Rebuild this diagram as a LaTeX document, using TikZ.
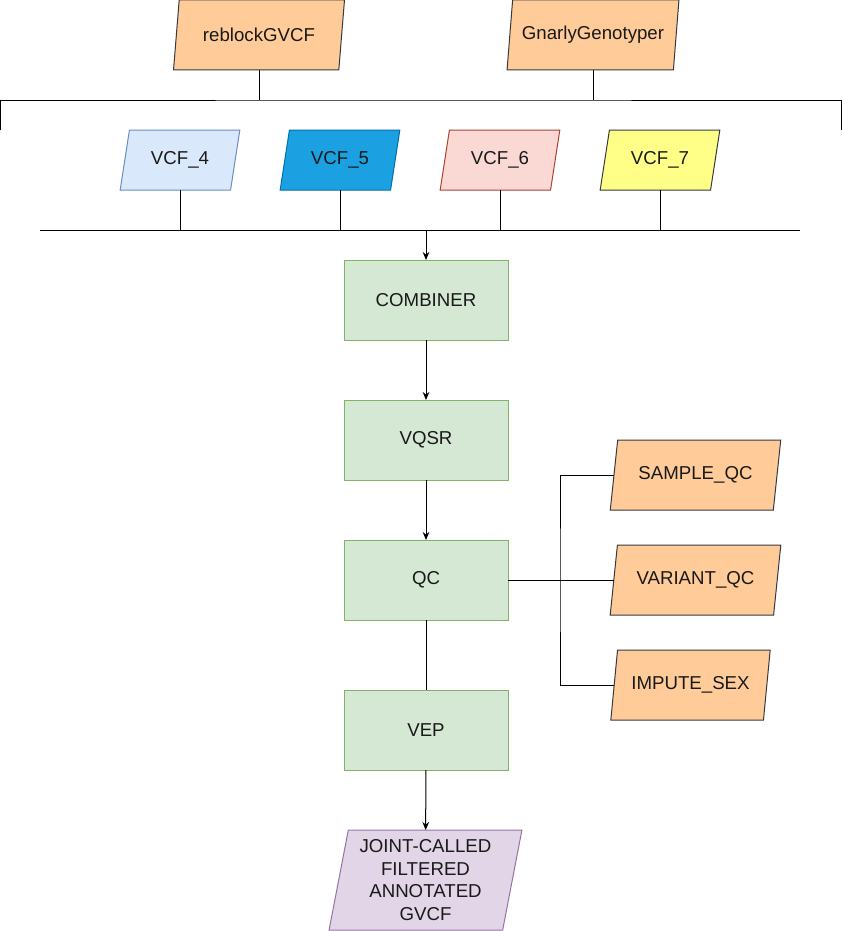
\documentclass[tikz,border=0pt]{standalone}
\usepackage{fontspec}
\setmainfont{Liberation Sans}
\usetikzlibrary{shapes.geometric,arrows.meta}
\definecolor{orangefill}{HTML}{FFCC99}
\definecolor{darkline}{HTML}{36393D}
\definecolor{greenfill}{HTML}{D5E8D4}
\definecolor{greenline}{HTML}{82B366}
\definecolor{purplefill}{HTML}{E1D5E7}
\definecolor{purpleline}{HTML}{9673A6}
\definecolor{vcffourfill}{HTML}{DAE8FC}
\definecolor{vcffourline}{HTML}{6C8EBF}
\definecolor{vcffivefill}{HTML}{1BA1E2}
\definecolor{vcffiveline}{HTML}{006EAF}
\definecolor{vcfsixfill}{HTML}{FAD9D5}
\definecolor{vcfsixline}{HTML}{AE4132}
\definecolor{vcfsevenfill}{HTML}{FFFF88}
\definecolor{vcfsevenline}{HTML}{36393D}
\begin{document}
\begin{tikzpicture}[x=0.75pt,y=-0.75pt,
    every node/.style={font=\fontsize{14}{17}\selectfont, text=black!90},
    para/.style={trapezium, trapezium stretches=true, draw, line width=0.75pt,
        outer sep=0pt, inner sep=1pt, align=center},
    tool/.style={para, fill=orangefill, draw=darkline, minimum width=129pt, minimum height=52.5pt,
        trapezium left angle=76, trapezium right angle=104},
    vcf/.style={para, minimum width=90pt, minimum height=45pt,
        trapezium left angle=74, trapezium right angle=106},
    qcout/.style={para, fill=orangefill, draw=darkline, minimum height=52.5pt,
        trapezium left angle=74, trapezium right angle=106},
    stage/.style={rectangle, draw=greenline, fill=greenfill, line width=0.75pt,
        outer sep=0pt, minimum width=123pt, minimum height=60pt},
    link/.style={line width=0.75pt},
    arrow/.style={link, -{Stealth[length=6pt,width=5pt]}}]
    \useasboundingbox (0,0) rectangle (842,931);

    % Tools
    \node[tool] (reblock) at (259,35) {reblockGVCF};
    \node[tool] (gnarly) at (593,35) {GnarlyGenotyper};

    % Bracket over the VCFs
    \coordinate (brL) at (0.5,130);
    \coordinate (brR) at (841.5,130);
    \coordinate (brtop) at (426,100);
    \draw[link] (brL) |- (brtop) -| (brR);
    \draw[link] (reblock.south) -- (reblock.south |- brtop);
    \draw[link] (gnarly.south) -- (gnarly.south |- brtop);

    % VCF inputs
    \coordinate (busL) at (40,230);
    \coordinate (busR) at (800,230);
    \draw[link] (busL) -- (busR);
    \foreach \n/\x/\c in {4/180/vcffour, 5/340/vcffive, 6/500/vcfsix, 7/660/vcfseven} {
        \node[vcf, fill=\c fill, draw=\c line] (vcf\n) at (\x,160) {VCF\_\n};
        \draw[link] (vcf\n.south) -- (vcf\n.south |- busL);
    }

    % Pipeline
    \node[stage] (combiner) at (426,300) {COMBINER};
    \node[stage] (vqsr) at (426,440) {VQSR};
    \node[stage] (qc) at (426,580) {QC};
    \node[stage] (vep) at (426,730) {VEP};
    \node[para, fill=purplefill, draw=purpleline, minimum width=144.75pt, minimum height=75pt,
        trapezium left angle=78.7, trapezium right angle=101.3] (joint) at (425.5,880)
        {JOINT-CALLED\\FILTERED\\ANNOTATED\\GVCF};

    \draw[arrow] (busL -| combiner.north) -- (combiner.north);
    \draw[arrow] (combiner) -- (vqsr);
    \draw[arrow] (vqsr) -- (qc);
    \draw[link] (qc) -- (vep);
    \draw[arrow] (vep) -- (joint);

    % QC outputs
    \node[qcout, minimum width=128.25pt] (sampleqc) at (695.5,475) {SAMPLE\_QC};
    \node[qcout, minimum width=128.25pt] (variantqc) at (695.5,580) {VARIANT\_QC};
    \node[qcout, minimum width=120.75pt] (imputesex) at (690.5,685) {IMPUTE\_SEX};
    \coordinate (qcbus) at (560,580);
    \draw[link] (qc.east) -- (variantqc.west);
    \draw[link] (sampleqc.west) -| (qcbus) |- (imputesex.west);
\end{tikzpicture}
\end{document}
